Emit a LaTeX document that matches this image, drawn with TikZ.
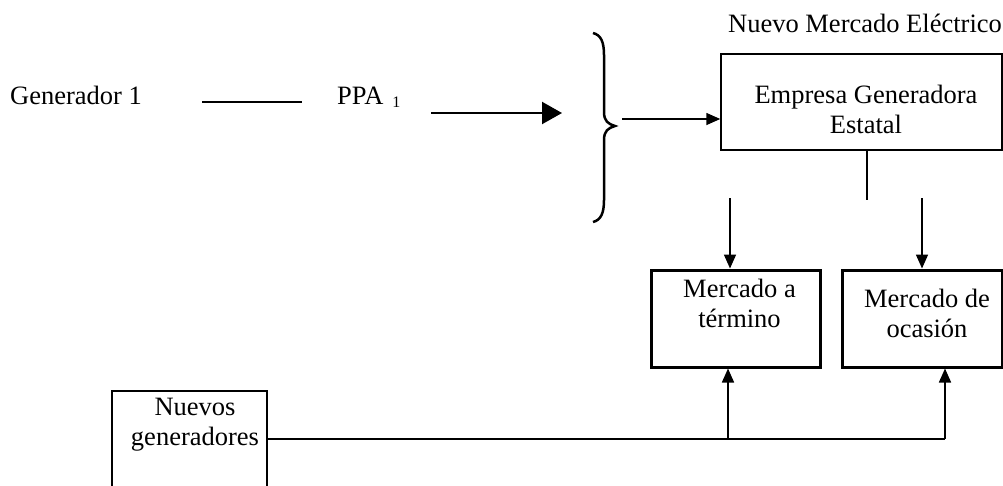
\documentclass[tikz,border=0pt]{standalone}
\usepackage{fontspec}
\setmainfont{Liberation Serif}
\usetikzlibrary{arrows.meta}
\begin{document}
\begin{tikzpicture}[x=1pt,y=-1pt,
  txt/.style={inner sep=0pt,font=\fontsize{26.5}{30}\selectfont,align=center},
  thinbox/.style={draw,line width=1.5pt,inner sep=0pt},
  thickbox/.style={draw,line width=3pt,inner sep=0pt},
  arr/.style={line width=1.6pt,-{Triangle[length=14pt,width=12pt]}},
  bigarr/.style={line width=2.2pt,-{Triangle[length=20pt,width=22pt]}},
  wire/.style={line width=2pt}]
\useasboundingbox (0,0) rectangle (1003,485);

% left part: first generator and its contract
\node[txt,anchor=base west] (gen) at (10,104) {Generador 1};
\node[txt,anchor=base west] (ppa) at (337,104)
  {PPA\hspace{9pt}\raisebox{-3pt}{\fontsize{16}{16}\selectfont 1}};
\coordinate (la) at (202,102);
\coordinate (lb) at (302,102);
\draw[wire] (la) -- (lb);
\coordinate (pa) at (431,113);
\coordinate (pb) at (562,113);
\draw[bigarr] (pa) -- (pb);

% brace gathering the inputs
\coordinate (btip) at (615,126);
\draw[line width=2.5pt]
  (593,33) .. controls (601,35) and (604,42) .. (604,55) -- (604,112)
  .. controls (604,121) and (608,124) .. (btip)
  .. controls (608,128) and (604,131) .. (604,140) -- (604,200)
  .. controls (604,213) and (601,220) .. (593,222);

% state generating company (the base anchor of a two-line node is its last line)
\node[txt,anchor=base] (title) at (865,32) {Nuevo Mercado Eléctrico};
\node[thinbox,minimum width=281pt,minimum height=96pt] (emp) at (861.5,102) {};
\node[txt,anchor=base] (emptxt) at (866,133) {Empresa Generadora\\Estatal};
\coordinate (bs) at (622,119);
\draw[arr] (bs) -- (bs -| emp.west);

\coordinate (s1) at (867,200);
\draw[line width=1.5pt] (emp.south -| s1) -- (s1);

% markets
\node[thickbox,minimum width=169pt,minimum height=97pt] (mt) at (735.5,318.5) {};
\node[txt,anchor=base] (mttxt) at (739.5,327) {Mercado a\\término};
\node[thickbox,minimum width=160pt,minimum height=97pt] (mo) at (922,318.5) {};
\node[txt,anchor=base] (motxt) at (927,337) {Mercado de\\ocasión};

\coordinate (d1) at (730,198);
\coordinate (d2) at (922,198);
\draw[arr] (d1) -- (d1 |- mt.north);
\draw[arr] (d2) -- (d2 |- mo.north);

% new generators
\node[thinbox,minimum width=155pt,minimum height=120pt] (ng) at (189.5,451) {};
\node[txt,anchor=base] (ngtxt) at (195,445) {Nuevos\\generadores};
\coordinate (j1) at (728,439);
\coordinate (j2) at (945,439);
\draw[line width=2.5pt] (ng.north east |- j1) -- (j2);
\draw[arr] (j1) -- (j1 |- mt.south);
\draw[arr] (j2) -- (j2 |- mo.south);
\end{tikzpicture}
\end{document}
